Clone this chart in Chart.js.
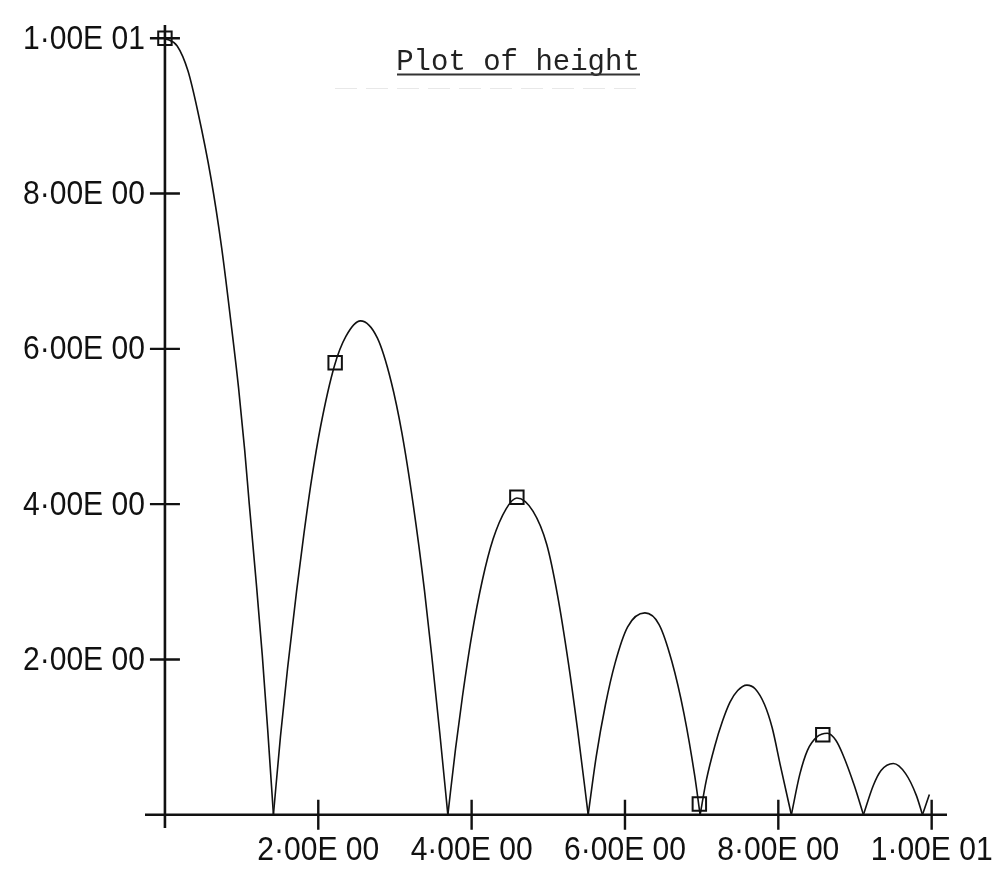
<!DOCTYPE html>
<html>
<head>
<meta charset="utf-8">
<title>Plot of height</title>
<script src="https://cdn.jsdelivr.net/npm/chart.js@4"></script>
<style>
  html, body { margin: 0; padding: 0; background: #fff; }
  #wrap { width: 1002px; height: 880px; position: relative; }
</style>
</head>
<body>
<div id="wrap"><canvas id="plot"></canvas></div>
<script>
// ── Plot data: bouncing ball, [time, height] ──
const arc0 = [[0, 10], [0.16, 9.9], [0.3, 9.58], [0.43, 9.05], [0.6, 8.2], [0.74, 7.3],
              [0.86, 6.35], [0.96, 5.5], [1.04, 4.7], [1.10, 4.0], [1.19, 3.0],
              [1.27, 2.05], [1.34, 1.1], [1.415, 0]];
const arc1 = [[1.415, 0], [1.506, 1.0], [1.60, 1.89], [1.717, 2.88], [1.813, 3.62],
              [1.91, 4.3], [2.03, 5.0], [2.21, 5.78], [2.36, 6.16], [2.55, 6.36],
              [2.77, 6.14], [2.95, 5.58], [3.09, 4.92], [3.24, 3.98], [3.386, 2.88],
              [3.485, 2.0], [3.585, 1.05], [3.69, 0]];
const arc2 = [[3.69, 0], [3.79, 0.85], [3.88, 1.52], [4.0, 2.3], [4.14, 3.02],
              [4.28, 3.55], [4.45, 3.94], [4.59, 4.08], [4.80, 3.91], [4.98, 3.48],
              [5.12, 2.83], [5.26, 1.97], [5.38, 1.11], [5.52, 0]];
const arc3 = [[5.52, 0], [5.625, 0.75], [5.746, 1.42], [5.87, 1.95], [6.035, 2.42],
              [6.26, 2.6], [6.445, 2.45], [6.61, 1.98], [6.77, 1.3], [6.91, 0.5],
              [6.98, 0]];
const arc4 = [[6.98, 0], [7.06, 0.44], [7.17, 0.88], [7.27, 1.2], [7.37, 1.45],
              [7.47, 1.6], [7.59, 1.67], [7.70, 1.62], [7.82, 1.42], [7.92, 1.12],
              [8.03, 0.62], [8.17, 0]];
const arc5 = [[8.17, 0], [8.28, 0.52], [8.38, 0.83], [8.50, 1.0], [8.64, 1.05],
              [8.75, 0.96], [8.84, 0.78], [8.99, 0.38], [9.11, 0]];
const arc6 = [[9.11, 0], [9.24, 0.38], [9.34, 0.57], [9.50, 0.66], [9.66, 0.53],
              [9.80, 0.25], [9.88, 0]];
const arc7 = [[9.88, 0], [9.97, 0.26]];

// sampled points marked with squares
const markers = [[0, 10], [2.22, 5.82], [4.59, 4.09], [6.97, 0.14], [8.58, 1.03]];

// ── Axis ticks ──
const xTickValues = [2, 4, 6, 8, 10];
const xTickLabels = ["2·00E 00", "4·00E 00", "6·00E 00", "8·00E 00", "1·00E 01"];
const yTickValues = [2, 4, 6, 8, 10];
const yTickLabels = ["2·00E 00", "4·00E 00", "6·00E 00", "8·00E 00", "1·00E 01"];

const TITLE = "Plot of height";
const INK   = "#111";

const toXY = pts => pts.map(p => ({ x: p[0], y: p[1] }));

function arcSet(pts) {
  return {
    data: toXY(pts),
    showLine: true,
    borderColor: INK,
    borderWidth: 1.6,
    pointRadius: 0,
    cubicInterpolationMode: "monotone",
    fill: false
  };
}

// ── Plotter-style axes: crossing ticks, labels, underlined title ──
const plotterAxes = {
  id: "plotterAxes",
  beforeDatasetsDraw(chart) {
    const { ctx, chartArea: a, scales: { x, y } } = chart;
    const x0 = x.getPixelForValue(0);
    const y0 = y.getPixelForValue(0);
    ctx.save();
    ctx.strokeStyle = INK;
    ctx.lineCap = "butt";

    ctx.lineWidth = 2.6;
    ctx.beginPath();
    ctx.moveTo(a.left, y0);  ctx.lineTo(a.right, y0);
    ctx.moveTo(x0, a.top);   ctx.lineTo(x0, a.bottom);
    ctx.stroke();

    ctx.lineWidth = 2.4;
    ctx.beginPath();
    xTickValues.forEach(v => {
      const px = x.getPixelForValue(v);
      ctx.moveTo(px, y0 - 15); ctx.lineTo(px, y0 + 15);
    });
    yTickValues.forEach(v => {
      const py = y.getPixelForValue(v);
      ctx.moveTo(x0 - 15, py); ctx.lineTo(x0 + 15, py);
    });
    ctx.stroke();
    ctx.restore();
  },
  afterDraw(chart) {
    const { ctx, scales: { x, y } } = chart;
    const x0 = x.getPixelForValue(0);
    const y0 = y.getPixelForValue(0);
    ctx.save();
    ctx.fillStyle = INK;
    ctx.font = "34px 'Liberation Sans', Arial, sans-serif";

    ctx.textAlign = "center";
    ctx.textBaseline = "middle";
    xTickValues.forEach((v, i) => {
      ctx.fillText(xTickLabels[i], x.getPixelForValue(v), y0 + 36, 122);
    });

    ctx.textAlign = "right";
    yTickValues.forEach((v, i) => {
      ctx.fillText(yTickLabels[i], x0 - 20, y.getPixelForValue(v) + 1, 122);
    });

    // title
    ctx.font = "29px 'Liberation Mono', 'DejaVu Sans Mono', monospace";
    ctx.fillStyle = "#222";
    ctx.textAlign = "center";
    ctx.textBaseline = "alphabetic";
    ctx.fillText(TITLE, 518, 70);
    ctx.strokeStyle = "#333";
    ctx.lineWidth = 1.8;
    ctx.beginPath();
    ctx.moveTo(397, 74.5); ctx.lineTo(640, 74.5);
    ctx.stroke();

    // faint scan line under the title
    ctx.strokeStyle = "rgba(0,0,0,0.09)";
    ctx.lineWidth = 1;
    ctx.setLineDash([22, 9]);
    ctx.beginPath();
    ctx.moveTo(335, 88.5); ctx.lineTo(645, 88.5);
    ctx.stroke();
    ctx.restore();
  }
};

new Chart(document.getElementById("plot"), {
  type: "scatter",
  data: {
    datasets: [
      arcSet(arc0), arcSet(arc1), arcSet(arc2), arcSet(arc3),
      arcSet(arc4), arcSet(arc5), arcSet(arc6), arcSet(arc7),
      {
        data: toXY(markers),
        showLine: false,
        pointStyle: "rect",
        pointRadius: 9.5,
        pointBorderWidth: 2,
        pointBorderColor: INK,
        pointBackgroundColor: "rgba(0,0,0,0)"
      }
    ]
  },
  options: {
    responsive: true,
    maintainAspectRatio: false,
    animation: false,
    layout: { padding: { left: 145, right: 55, top: 25, bottom: 52 } },
    plugins: { legend: { display: false }, tooltip: { enabled: false }, title: { display: false } },
    scales: {
      x: { type: "linear", min: -0.26, max: 10.2, display: false },
      y: { type: "linear", min: -0.17, max: 10.17, display: false }
    }
  },
  plugins: [plotterAxes]
});
</script>
</body>
</html>
